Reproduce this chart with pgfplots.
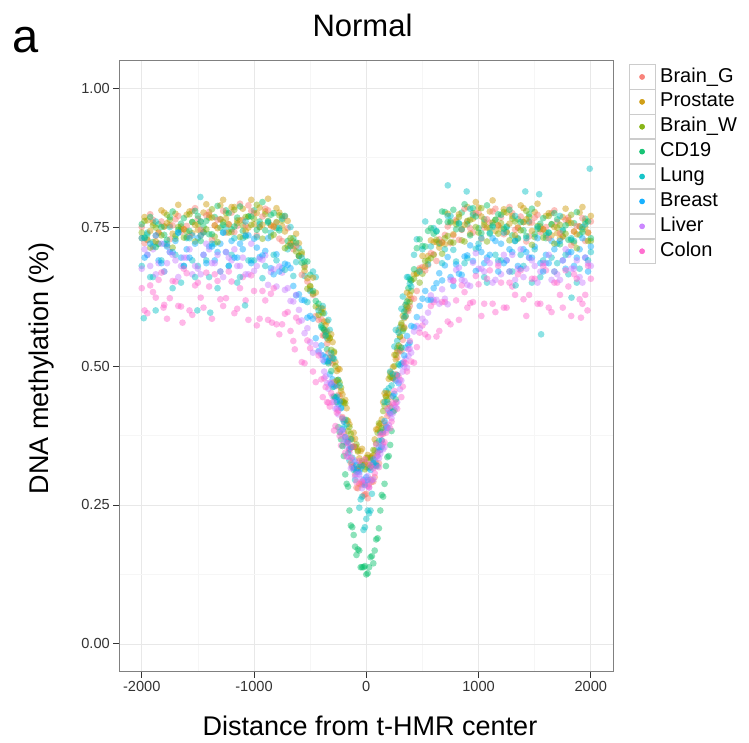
\documentclass[border=0pt]{standalone}
\usepackage{fontspec}
\setmainfont{Liberation Sans}
\usepackage{pgfplots}
\usepackage{pgfplotstable}
\pgfplotsset{compat=1.18}
\definecolor{cBG}{HTML}{F8766D}
\definecolor{cPR}{HTML}{CD9600}
\definecolor{cBW}{HTML}{7CAE00}
\definecolor{cCD}{HTML}{00BE67}
\definecolor{cLU}{HTML}{00BFC4}
\definecolor{cBR}{HTML}{00A9FF}
\definecolor{cLI}{HTML}{C77CFF}
\definecolor{cCO}{HTML}{FF61CC}

\pgfplotstableread{
x bg pr bw cd lu br li co
-2000 .750 .730 .740 .755 .680 .730 .675 .640
-1950 .727 .762 .727 .737 .740 .700 .700 .595
-1900 .763 .758 .753 .723 .660 .715 .710 .633
-1850 .740 .740 .720 .755 .720 .690 .685 .655
-1800 .751 .776 .751 .736 .670 .720 .670 .610
-1750 .728 .753 .763 .768 .750 .705 .705 .622
-1700 .764 .774 .729 .734 .700 .725 .690 .652
-1650 .741 .751 .746 .756 .650 .695 .680 .607
-1600 .752 .772 .742 .732 .730 .710 .695 .667
-1550 .779 .739 .759 .759 .690 .735 .665 .592
-1500 .765 .745 .755 .770 .680 .730 .675 .650
-1450 .741 .776 .741 .751 .740 .700 .700 .605
-1400 .777 .772 .767 .737 .660 .715 .710 .643
-1350 .753 .753 .733 .768 .720 .690 .685 .665
-1300 .764 .789 .764 .749 .670 .720 .670 .620
-1250 .740 .765 .775 .780 .750 .705 .705 .622
-1200 .776 .786 .741 .746 .700 .725 .690 .652
-1150 .752 .762 .757 .767 .650 .695 .680 .603
-1100 .763 .783 .753 .743 .730 .710 .695 .660
-1050 .789 .749 .769 .769 .690 .735 .665 .583
-1000 .775 .755 .765 .780 .690 .729 .671 .635
-950 .750 .785 .750 .760 .755 .696 .693 .585
-900 .783 .778 .773 .744 .680 .707 .699 .618
-850 .753 .753 .733 .772 .740 .676 .669 .630
-800 .758 .784 .759 .748 .690 .701 .643 .575
-750 .725 .752 .762 .770 .765 .676 .668 .575
-700 .748 .761 .716 .725 .710 .682 .640 .597
-650 .710 .724 .716 .730 .662 .644 .616 .545
-600 .698 .721 .698 .698 .712 .629 .601 .580
-550 .681 .671 .678 .688 .662 .618 .559 .505
-500 .637 .643 .644 .664 .635 .590 .543 .532
-450 .590 .632 .607 .617 .660 .550 .538 .471
-400 .584 .604 .597 .573 .570 .537 .520 .476
-375 .555 .580 .565 .565 .595 .508 .490 .478
-350 .540 .580 .563 .530 .550 .508 .469 .435
-325 .508 .550 .550 .515 .565 .485 .470 .427
-300 .505 .543 .514 .462 .515 .476 .445 .435
-275 .468 .507 .500 .443 .465 .443 .423 .392
-250 .448 .495 .475 .390 .475 .431 .413 .420
-225 .436 .455 .461 .368 .425 .424 .378 .357
-200 .401 .433 .435 .338 .390 .400 .364 .380
-175 .362 .424 .403 .288 .395 .363 .355 .337
-150 .349 .395 .390 .240 .330 .352 .344 .350
-125 .318 .368 .354 .210 .335 .323 .319 .355
-100 .305 .369 .354 .175 .295 .328 .301 .315
-75 .280 .346 .348 .170 .315 .312 .310 .312
-50 .288 .347 .322 .138 .260 .315 .297 .325
-25 .267 .327 .322 .138 .205 .295 .287 .289
0 .270 .335 .318 .125 .225 .300 .293 .325
25 .287 .321 .329 .138 .235 .316 .281 .282
50 .292 .335 .338 .158 .270 .322 .295 .325
75 .300 .368 .348 .168 .330 .321 .319 .307
100 .339 .386 .380 .190 .320 .345 .338 .345
125 .349 .396 .382 .240 .380 .349 .342 .375
150 .378 .435 .419 .265 .385 .381 .350 .360
175 .390 .445 .445 .320 .455 .393 .385 .380
200 .432 .477 .450 .338 .460 .420 .394 .415
225 .444 .486 .479 .383 .465 .425 .406 .400
250 .476 .520 .500 .420 .535 .450 .430 .455
275 .515 .527 .532 .483 .545 .484 .435 .423
300 .535 .553 .553 .528 .570 .501 .458 .475
325 .547 .590 .567 .563 .625 .506 .490 .463
350 .589 .610 .601 .590 .610 .533 .513 .505
375 .599 .620 .604 .640 .660 .538 .518 .530
400 .621 .654 .635 .654 .643 .572 .524 .508
450 .635 .666 .667 .712 .728 .588 .572 .534
500 .678 .698 .666 .716 .710 .621 .585 .573
550 .681 .698 .690 .743 .683 .619 .596 .552
600 .701 .723 .700 .738 .748 .640 .619 .615
650 .728 .713 .720 .760 .722 .667 .612 .563
700 .736 .719 .730 .777 .710 .681 .621 .615
750 .721 .758 .723 .760 .770 .660 .655 .575
800 .763 .760 .755 .746 .688 .683 .673 .618
850 .745 .746 .726 .776 .746 .664 .655 .645
900 .760 .786 .761 .755 .694 .699 .646 .605
950 .740 .765 .775 .784 .772 .689 .686 .615
1000 .775 .785 .740 .748 .720 .713 .675 .647
1050 .749 .759 .754 .764 .660 .685 .670 .612
1100 .758 .778 .748 .738 .740 .700 .685 .672
1150 .783 .743 .763 .763 .700 .725 .655 .597
1200 .767 .747 .757 .772 .690 .720 .665 .650
1250 .741 .776 .741 .751 .750 .690 .690 .605
1300 .775 .770 .765 .735 .670 .705 .700 .643
1350 .749 .749 .729 .764 .730 .680 .675 .665
1400 .759 .784 .759 .744 .680 .710 .660 .620
1450 .733 .758 .768 .773 .760 .695 .695 .628
1500 .767 .777 .732 .737 .710 .715 .680 .657
1550 .741 .751 .746 .756 .660 .685 .670 .612
1600 .750 .770 .740 .730 .735 .700 .685 .672
1650 .775 .735 .755 .755 .695 .725 .655 .597
1700 .759 .739 .749 .764 .685 .720 .665 .650
1750 .733 .768 .733 .743 .745 .690 .690 .605
1800 .767 .762 .757 .727 .665 .705 .700 .643
1850 .742 .742 .722 .757 .725 .680 .675 .665
1900 .751 .776 .751 .736 .675 .710 .660 .620
1950 .725 .750 .760 .765 .755 .695 .695 .628
2000 .760 .770 .725 .730 .705 .715 .680 .657
}\datatable

\pgfplotstableread{
x bg pr bw cd lu br li co
-1975 .721 .768 .761 .731 .730 .695 .710 .600
-1925 .773 .743 .713 .768 .660 .720 .680 .645
-1875 .734 .724 .749 .714 .760 .735 .665 .623
-1825 .760 .780 .735 .750 .690 .685 .720 .668
-1775 .717 .757 .772 .727 .720 .715 .685 .585
-1725 .753 .738 .713 .778 .640 .705 .700 .653
-1675 .770 .790 .750 .745 .740 .740 .660 .608
-1625 .746 .746 .731 .766 .680 .680 .695 .675
-1575 .733 .778 .773 .743 .730 .695 .710 .600
-1525 .784 .754 .724 .779 .660 .720 .680 .645
-1475 .745 .735 .760 .725 .760 .735 .665 .623
-1425 .771 .791 .746 .761 .690 .685 .720 .668
-1375 .727 .767 .782 .737 .720 .715 .685 .585
-1325 .763 .748 .723 .788 .640 .705 .700 .653
-1275 .779 .799 .759 .754 .740 .740 .660 .608
-1225 .755 .755 .740 .775 .680 .680 .695 .670
-1175 .741 .786 .781 .751 .730 .695 .710 .595
-1125 .792 .762 .732 .787 .660 .720 .680 .640
-1075 .753 .743 .768 .733 .760 .735 .665 .618
-1025 .779 .799 .754 .769 .690 .685 .720 .663
-975 .735 .775 .790 .745 .732 .713 .680 .573
-925 .769 .754 .729 .795 .658 .699 .691 .635
-875 .780 .801 .761 .758 .760 .730 .646 .583
-825 .750 .751 .736 .775 .700 .665 .674 .640
-775 .729 .776 .771 .744 .748 .670 .679 .557
-725 .769 .742 .712 .770 .673 .684 .637 .594
-675 .718 .721 .730 .716 .750 .676 .617 .563
-625 .716 .738 .706 .722 .687 .627 .628 .587
-575 .664 .701 .705 .686 .695 .619 .582 .507
-525 .652 .658 .639 .688 .615 .587 .568 .546
-475 .628 .659 .630 .635 .670 .585 .524 .490
-425 .583 .605 .592 .612 .600 .527 .525 .519
-387.5 .555 .603 .595 .568 .608 .519 .511 .444
-362.5 .562 .574 .555 .561 .555 .516 .481 .462
-337.5 .523 .547 .554 .505 .583 .509 .459 .434
-312.5 .516 .557 .529 .491 .523 .467 .469 .451
-287.5 .471 .524 .526 .445 .513 .463 .435 .384
-262.5 .464 .491 .474 .435 .445 .439 .424 .416
-237.5 .446 .494 .470 .381 .465 .436 .385 .374
-212.5 .408 .449 .437 .356 .405 .386 .384 .406
-187.5 .373 .439 .433 .305 .403 .372 .371 .344
-162.5 .369 .401 .383 .283 .343 .364 .337 .361
-137.5 .325 .369 .378 .213 .368 .354 .316 .335
-112.5 .319 .380 .355 .196 .313 .316 .331 .355
-87.5 .281 .354 .359 .160 .310 .322 .305 .291
-62.5 .288 .334 .319 .168 .245 .309 .305 .329
-37.5 .286 .351 .329 .138 .265 .320 .280 .292
-12.5 .269 .324 .314 .140 .210 .286 .294 .332
12.5 .262 .340 .335 .127 .240 .295 .302 .284
37.5 .296 .335 .318 .156 .240 .313 .293 .321
62.5 .292 .339 .349 .145 .325 .332 .296 .316
87.5 .326 .386 .361 .188 .320 .322 .336 .359
112.5 .325 .393 .397 .208 .365 .354 .334 .318
137.5 .366 .404 .388 .268 .355 .366 .357 .378
162.5 .398 .451 .428 .288 .435 .401 .354 .363
187.5 .410 .451 .439 .336 .435 .389 .389 .423
212.5 .427 .488 .481 .358 .490 .416 .413 .388
237.5 .478 .498 .479 .418 .485 .446 .415 .433
262.5 .485 .512 .520 .440 .565 .474 .426 .434
287.5 .525 .564 .537 .503 .560 .469 .472 .482
312.5 .527 .574 .577 .533 .603 .504 .474 .444
337.5 .570 .586 .568 .598 .588 .519 .499 .507
362.5 .600 .632 .607 .616 .660 .554 .497 .490
387.5 .608 .628 .615 .656 .648 .542 .531 .545
425 .621 .665 .657 .674 .700 .570 .562 .506
475 .676 .673 .650 .728 .670 .608 .568 .560
525 .672 .679 .689 .715 .760 .635 .579 .557
575 .703 .726 .694 .748 .715 .619 .627 .608
625 .689 .723 .727 .742 .743 .649 .619 .553
675 .723 .722 .702 .778 .685 .654 .638 .615
725 .751 .774 .734 .759 .770 .696 .611 .580
775 .735 .737 .722 .781 .709 .644 .654 .653
825 .727 .773 .768 .756 .757 .666 .677 .583
875 .783 .754 .724 .791 .685 .697 .653 .633
925 .748 .738 .763 .735 .783 .717 .644 .613
975 .775 .795 .750 .769 .711 .671 .703 .662
1025 .729 .769 .784 .739 .730 .705 .675 .590
1075 .764 .749 .724 .789 .650 .695 .690 .657
1125 .778 .798 .758 .753 .750 .730 .650 .612
1175 .753 .753 .738 .773 .690 .670 .685 .680
1225 .737 .782 .777 .747 .740 .685 .700 .605
1275 .786 .756 .726 .781 .670 .710 .670 .650
1325 .745 .735 .760 .725 .770 .725 .655 .628
1375 .769 .789 .744 .759 .700 .675 .710 .672
1425 .724 .764 .779 .734 .730 .705 .675 .590
1475 .758 .743 .718 .783 .650 .695 .690 .657
1525 .772 .792 .752 .747 .750 .730 .650 .612
1575 .746 .746 .731 .766 .690 .670 .685 .680
1625 .730 .775 .770 .740 .740 .685 .700 .605
1675 .780 .750 .720 .775 .670 .710 .670 .650
1725 .739 .729 .754 .719 .770 .725 .655 .628
1775 .763 .783 .738 .753 .700 .675 .710 .672
1825 .717 .757 .772 .727 .730 .705 .675 .590
1875 .752 .737 .712 .777 .650 .695 .690 .657
1925 .766 .786 .746 .741 .750 .730 .650 .612
1975 .740 .740 .725 .760 .690 .670 .685 .680
}\datatableb

\pgfplotstableread{
x y
-1982 .586
-1876 .600
-1505 .600
-1478 .804
-1390 .596
-1080 .609
726 .825
894 .814
1330 .645
1416 .814
1540 .809
1557 .557
1828 .623
1990 .855
}\lungextra

\pgfplotstableread{
x y
-1806 .605
-1637 .578
-840 .578
-637 .530
1912 .587
1970 .600
}\colonextra

\pgfplotsset{
  pts/.style={only marks, mark=*, mark size=3.35pt, color=#1,
    mark options={draw opacity=0, fill opacity=0.45}},
}

\begin{document}
\begin{tikzpicture}
\useasboundingbox (-119.3pt,-70.3pt) rectangle (629.7pt,671.7pt);
\begin{axis}[
  at={(0pt,0pt)}, anchor=south west,
  scale only axis, width=494pt, height=611.4pt,
  xmin=-2200, xmax=2200, ymin=-0.05, ymax=1.05,
  xtick={-2000,-1000,0,1000,2000},
  xticklabels={-2000,-1000,0,1000,2000},
  ytick={0,0.25,0.5,0.75,1},
  yticklabels={0.00,0.25,0.50,0.75,1.00},
  minor xtick={-1500,-500,500,1500},
  minor ytick={0.125,0.375,0.625,0.875},
  grid=both,
  major grid style={color=black!9, line width=0.8pt},
  minor grid style={color=black!3.5, line width=0.6pt},
  tick pos=left, tick align=outside,
  major tick length=6pt, minor tick length=0pt,
  tick style={color=black!80, line width=0.9pt},
  axis line style={color=black!50, line width=0.9pt},
  ticklabel style={font=\fontsize{14.6}{17}\selectfont, color=black!80},
  legend style={at={(1,1)}, anchor=north west, xshift=15.5pt, yshift=-4pt,
    draw=none, fill=none, inner sep=0pt, row sep=0pt, column sep=5pt,
    font=\fontsize{20}{24}\selectfont,
    nodes={inner sep=0pt, anchor=west, text height=10.3pt, text depth=0pt}},
  legend cell align=left,
  legend image code/.code={%
    \draw[draw=black!20, fill=white, line width=0.7pt, draw opacity=1, fill opacity=1]
      (0pt,-12.1pt) rectangle (25.5pt,12.1pt);
    \fill[fill opacity=0.9] (12.75pt,0pt) circle[radius=2.6pt];
  },
]
\addplot[pts=cBG] table[x=x,y=bg]{\datatable};
\addlegendentry{Brain\_G}
\addplot[pts=cPR] table[x=x,y=pr]{\datatable};
\addlegendentry{Prostate}
\addplot[pts=cBW] table[x=x,y=bw]{\datatable};
\addlegendentry{Brain\_W}
\addplot[pts=cCD] table[x=x,y=cd]{\datatable};
\addlegendentry{CD19}
\addplot[pts=cLU] table[x=x,y=lu]{\datatable};
\addlegendentry{Lung}
\addplot[pts=cBR] table[x=x,y=br]{\datatable};
\addlegendentry{Breast}
\addplot[pts=cLI] table[x=x,y=li]{\datatable};
\addlegendentry{Liver}
\addplot[pts=cCO] table[x=x,y=co]{\datatable};
\addlegendentry{Colon}
\addplot[pts=cBG, forget plot] table[x=x,y=bg]{\datatableb};
\addplot[pts=cPR, forget plot] table[x=x,y=pr]{\datatableb};
\addplot[pts=cBW, forget plot] table[x=x,y=bw]{\datatableb};
\addplot[pts=cCD, forget plot] table[x=x,y=cd]{\datatableb};
\addplot[pts=cLU, forget plot] table[x=x,y=lu]{\datatableb};
\addplot[pts=cBR, forget plot] table[x=x,y=br]{\datatableb};
\addplot[pts=cLI, forget plot] table[x=x,y=li]{\datatableb};
\addplot[pts=cCO, forget plot] table[x=x,y=co]{\datatableb};
\addplot[pts=cLU, forget plot] table[x=x,y=y]{\lungextra};
\addplot[pts=cCO, forget plot] table[x=x,y=y]{\colonextra};
\end{axis}
\node[anchor=base, inner sep=0pt, font=\fontsize{31}{36}\selectfont] at (243.2pt,634.7pt) {Normal};
\node[anchor=base west, inner sep=0pt, font=\fontsize{47}{52}\selectfont] at (-106.5pt,618.7pt) {a};
\node[anchor=base, inner sep=0pt, font=\fontsize{27}{32}\selectfont] at (250.7pt,-63.6pt) {Distance from t-HMR center};
\node[anchor=base, rotate=90, inner sep=0pt, font=\fontsize{27}{32}\selectfont] at (-71pt,303.3pt) {DNA methylation (\%)};
\end{tikzpicture}
\end{document}
